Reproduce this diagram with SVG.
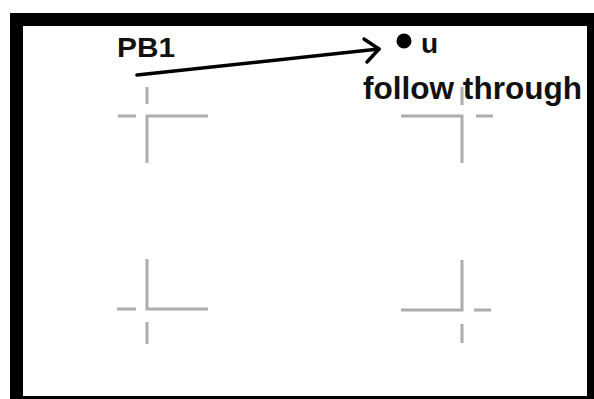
<svg xmlns="http://www.w3.org/2000/svg" width="594" height="399" viewBox="0 0 594 399">
<style>
.lbl{font-family:"Liberation Sans",Arial,Helvetica,sans-serif;font-weight:bold;fill:#111}
.mark{stroke:#adadad;stroke-width:3;fill:none}
.conn{stroke:#000;stroke-width:3.5;fill:none;stroke-linecap:round;stroke-linejoin:round}
</style>
<g id="frame">
<rect x="10" y="13" width="584" height="386" fill="#000"/>
<rect x="23" y="26" width="564" height="370" fill="#fff"/>
</g>
<g id="marks">
<g id="mark-tl">
<path class="mark" d="M208 116H147V163M118 116H136M147 87V104"/>
</g>
<g id="mark-tr">
<path class="mark" d="M401 116H462V163M476 116H493M462 87V105"/>
</g>
<g id="mark-bl">
<path class="mark" d="M147 259V309H208M117 309H136M147 322V344"/>
</g>
<g id="mark-br">
<path class="mark" d="M462 260V310H401M474 310H491M462 324V343"/>
</g>
</g>
<g id="node-pb1">
<text class="lbl" x="117" y="57" font-size="28" textLength="58" lengthAdjust="spacingAndGlyphs">PB1</text>
</g>
<g id="node-u">
<circle cx="404" cy="41" r="7.5" fill="#000"/>
<text class="lbl" x="421" y="53" font-size="28">u</text>
<text class="lbl" x="363" y="99" font-size="32" textLength="219" lengthAdjust="spacingAndGlyphs">follow through</text>
</g>
<g id="connectors">
<path class="conn" d="M137 75L379 49"/>
<path class="conn" d="M364 39L379 49L367 62"/>
</g>
</svg>
